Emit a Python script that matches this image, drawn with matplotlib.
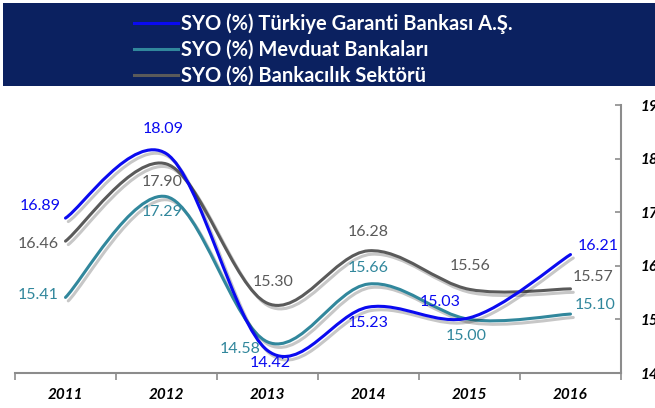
import matplotlib.pyplot as plt
import matplotlib.patheffects as pe
from matplotlib.lines import Line2D
from matplotlib.patches import PathPatch, Rectangle
from matplotlib.path import Path
import numpy as np

years = ["2011", "2012", "2013", "2014", "2015", "2016"]
garanti = [16.89, 18.09, 14.42, 15.23, 15.03, 16.21]
mevduat = [15.41, 17.29, 14.58, 15.66, 15.00, 15.10]
sektor = [16.46, 17.90, 15.30, 16.28, 15.56, 15.57]

names = [
    "SYO (%) Türkiye Garanti Bankası A.Ş.",
    "SYO (%) Mevduat Bankaları",
    "SYO (%) Bankacılık Sektörü",
]
colors = ["#0a0af0", "#31879c", "#5a5a5a"]

# label offsets in pixels (dx, dy) for each point
offsets = [
    [(-25, 12), (-3, 25), (3, -13), (0, -16), (-29, 16), (28, 9)],
    [(-27, 2), (-4, -15), (-27, -7), (0, 16), (-3, -17), (25, 9)],
    [(-27, -3), (-4, -18), (6, 21), (0, 19), (1, 23), (23, 12)],
]

plt.rcParams["font.family"] = ["Lato", "DejaVu Sans"]


def smoothPath(xs, ys):
    # catmull-rom style bezier like excel's smoothed line
    pts = np.column_stack([xs, ys])
    ext = np.vstack([pts[0], pts, pts[-1]])
    verts = [pts[0]]
    codes = [Path.MOVETO]
    for i in range(1, len(ext) - 2):
        p0, p1, p2, p3 = ext[i - 1], ext[i], ext[i + 1], ext[i + 2]
        c1 = p1 + (p2 - p0) / 6
        c2 = p2 - (p3 - p1) / 6
        verts += [c1, c2, p2]
        codes += [Path.CURVE4] * 3
    return Path(verts, codes)


fig = plt.figure(figsize=(6.55, 4.08), dpi=100)
ax = fig.add_axes([15 / 655, 35 / 408, 606 / 655, 268 / 408])

x = np.arange(len(years)) + 0.5
series = [garanti, mevduat, sektor]
shadow = [pe.SimpleLineShadow(offset=(2, -2.5), shadow_color="#000000", alpha=0.22), pe.Normal()]

for vals, col in zip(series[::-1], colors[::-1]):
    patch = PathPatch(smoothPath(x, vals), fill=False, edgecolor=col, lw=2.2,
                      capstyle="round", path_effects=shadow, zorder=3)
    ax.add_patch(patch)

for vals, col, offs in zip(series, colors, offsets):
    for xi, v, (dx, dy) in zip(x, vals, offs):
        ax.annotate(f"{v:.2f}", (xi, v), xytext=(dx, dy), textcoords="offset pixels",
                    ha="center", va="center", color=col, fontsize=11.5, zorder=5)

ax.set_xlim(0, 6)
ax.set_ylim(14, 19)

ax.spines["left"].set_visible(False)
ax.spines["top"].set_visible(False)
ax.spines["right"].set_color("#8c8c8c")
ax.spines["bottom"].set_color("#8c8c8c")
ax.spines["right"].set_linewidth(1.5)
ax.spines["bottom"].set_linewidth(1.5)

ax.yaxis.tick_right()
ax.set_yticks(range(14, 20))
ax.tick_params(axis="y", which="major", direction="in", length=4, width=1.2,
               color="#8c8c8c", pad=14, labelsize=11)
for lbl in ax.get_yticklabels():
    lbl.set_fontweight("bold")
    lbl.set_fontstyle("italic")

ax.set_xticks(range(0, 7))
ax.set_xticklabels([])
ax.set_xticks(x, minor=True)
ax.set_xticklabels(years, minor=True, fontweight="bold", fontstyle="italic", fontsize=11)
ax.tick_params(axis="x", which="major", direction="out", length=5, width=1.2, color="#8c8c8c")
ax.tick_params(axis="x", which="minor", length=0, pad=11)

# legend box
fig.patches.append(Rectangle((3 / 655, 1 - 86 / 408), 1, 83 / 408, transform=fig.transFigure,
                             facecolor="#0b2160", edgecolor="none", zorder=0))
handles = [Line2D([], [], color=c, lw=2.2) for c in colors]
leg = fig.legend(handles, names, loc="upper left", bbox_to_anchor=(126 / 655, 1 - 5 / 408),
                 frameon=False, prop={"weight": "bold", "size": 14.5},
                 labelcolor="white", handlelength=2.2,
                 handletextpad=0.15, labelspacing=0.3, borderaxespad=0)

fig.savefig("out.png", dpi=100)
